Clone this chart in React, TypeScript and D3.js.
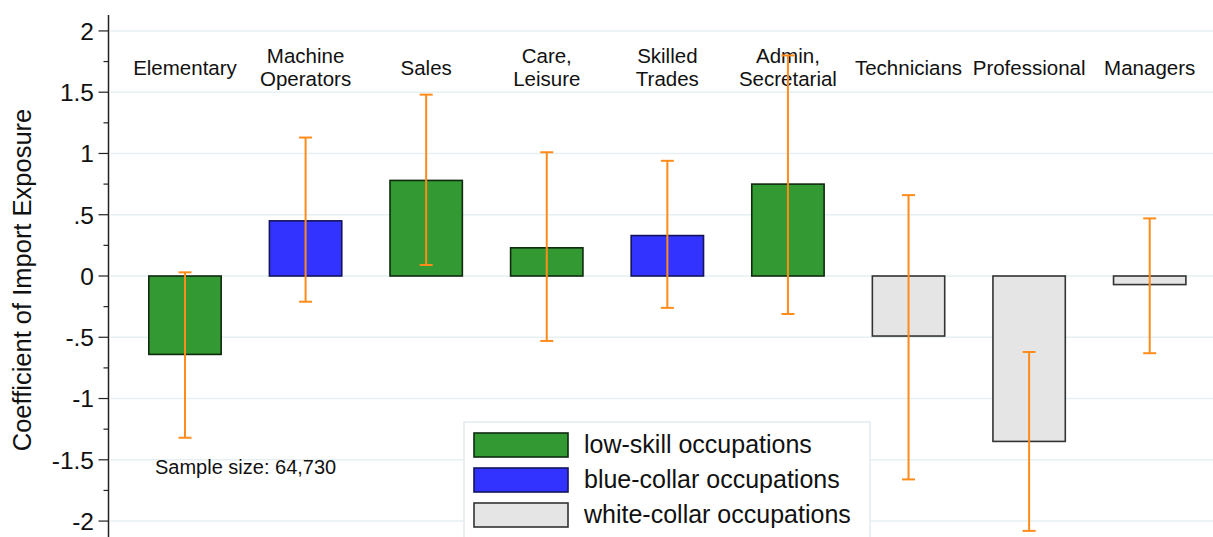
import React, { useEffect, useRef } from "react"
import * as d3 from "d3"

// occupation categories, as shown above the bars
const categories = [
	"Elementary",
	"Machine Operators",
	"Sales",
	"Care, Leisure",
	"Skilled Trades",
	"Admin, Secretarial",
	"Technicians",
	"Professional",
	"Managers",
]
const labelLines = [
	["Elementary"],
	["Machine", "Operators"],
	["Sales"],
	["Care,", "Leisure"],
	["Skilled", "Trades"],
	["Admin,", "Secretarial"],
	["Technicians"],
	["Professional"],
	["Managers"],
]
const groups = ["low", "blue", "low", "low", "blue", "low", "white", "white", "white"]

// coefficient of import exposure and its confidence interval
const coef = [-0.64, 0.45, 0.78, 0.23, 0.33, 0.75, -0.49, -1.35, -0.07]
const ciLow = [-1.32, -0.21, 0.09, -0.53, -0.26, -0.31, -1.66, -2.08, -0.63]
const ciHigh = [0.03, 1.13, 1.48, 1.01, 0.94, 1.8, 0.66, -0.62, 0.47]

const yTicks = [2, 1.5, 1, 0.5, 0, -0.5, -1, -1.5, -2]
const yTickLabels = ["2", "1.5", "1", ".5", "0", "-.5", "-1", "-1.5", "-2"]
const yMinorTicks = [1.75, 1.25, 0.75, 0.25, -0.25, -0.75, -1.25, -1.75]

const legendKeys = ["low", "blue", "white"]
const legendLabels = ["low-skill occupations", "blue-collar occupations", "white-collar occupations"]

const fills: Record<string, string> = { low: "#339933", blue: "#3333ff", white: "#e5e5e5" }
const strokes: Record<string, string> = { low: "#0f2a0f", blue: "#14145a", white: "#333333" }

const width = 1213
const height = 537
const font = "'Liberation Sans', Arial, sans-serif"

const Chart = () => {
	const ref = useRef<SVGSVGElement>(null)

	useEffect(() => {
		document.body.style.margin = "0"
		const axisX = 108.5

		const x = d3
			.scaleBand()
			.domain(categories)
			.range([124.7, 1210])
			.paddingInner(0.4)
			.paddingOuter(0.2)

		const y = d3.scaleLinear().domain([-2.13, 2.13]).range([height, 15])

		const svg = d3.select(ref.current)
		svg.selectAll("*").remove()

		const data = categories.map((c, i) => ({
			cat: c,
			lines: labelLines[i],
			group: groups[i],
			value: coef[i],
			lo: ciLow[i],
			hi: ciHigh[i],
		}))

		// gridlines
		svg
			.append("g")
			.selectAll("line")
			.data(yTicks)
			.join("line")
			.attr("x1", axisX + 2)
			.attr("x2", width)
			.attr("y1", d => y(d))
			.attr("y2", d => y(d))
			.attr("stroke", "#e6eff2")
			.attr("stroke-width", 1.6)

		// y axis
		const axis = svg.append("g")
		axis
			.append("line")
			.attr("x1", axisX)
			.attr("x2", axisX)
			.attr("y1", 15)
			.attr("y2", height)
			.attr("stroke", "#222")
			.attr("stroke-width", 1.5)
		axis
			.selectAll("line.major")
			.data(yTicks)
			.join("line")
			.attr("class", "major")
			.attr("x1", axisX - 10)
			.attr("x2", axisX)
			.attr("y1", d => y(d))
			.attr("y2", d => y(d))
			.attr("stroke", "#222")
			.attr("stroke-width", 1.2)
		axis
			.selectAll("line.minor")
			.data(yMinorTicks)
			.join("line")
			.attr("class", "minor")
			.attr("x1", axisX - 5)
			.attr("x2", axisX)
			.attr("y1", d => y(d))
			.attr("y2", d => y(d))
			.attr("stroke", "#222")
			.attr("stroke-width", 1.2)
		axis
			.selectAll("text")
			.data(yTicks)
			.join("text")
			.attr("x", 94)
			.attr("y", d => y(d))
			.attr("dy", "0.36em")
			.attr("text-anchor", "end")
			.style("font-family", font)
			.style("font-size", "24.5px")
			.style("fill", "#111")
			.text((d, i) => yTickLabels[i])

		svg
			.append("text")
			.attr("transform", `translate(31, 280) rotate(-90)`)
			.attr("text-anchor", "middle")
			.style("font-family", font)
			.style("font-size", "25.5px")
			.style("fill", "#111")
			.text("Coefficient of Import Exposure")

		// bars
		svg
			.append("g")
			.selectAll("rect")
			.data(data)
			.join("rect")
			.attr("x", d => x(d.cat)!)
			.attr("width", x.bandwidth())
			.attr("y", d => y(Math.max(0, d.value)))
			.attr("height", d => Math.abs(y(d.value) - y(0)))
			.attr("fill", d => fills[d.group])
			.attr("stroke", d => strokes[d.group])
			.attr("stroke-width", 1.6)

		// category labels
		const labels = svg
			.append("g")
			.selectAll("text")
			.data(data)
			.join("text")
			.attr("x", d => x(d.cat)! + x.bandwidth() / 2)
			.attr("y", d => (d.lines.length === 1 ? 75 : 63))
			.attr("text-anchor", "middle")
			.style("font-family", font)
			.style("font-size", "20.5px")
			.style("fill", "#111")
		labels
			.selectAll("tspan")
			.data(d => d.lines.map((l, i) => ({ l, i, cx: x(d.cat)! + x.bandwidth() / 2 })))
			.join("tspan")
			.attr("x", d => d.cx)
			.attr("dy", d => (d.i === 0 ? 0 : 23))
			.text(d => d.l)

		// error bars
		const err = svg
			.append("g")
			.attr("stroke", "#ff8c1a")
			.attr("stroke-width", 2)
			.selectAll("g")
			.data(data)
			.join("g")
			.attr("transform", d => `translate(${x(d.cat)! + x.bandwidth() / 2},0)`)
		err
			.append("line")
			.attr("y1", d => y(d.lo))
			.attr("y2", d => y(d.hi))
		err
			.selectAll("line.cap")
			.data(d => [d.lo, d.hi])
			.join("line")
			.attr("class", "cap")
			.attr("x1", -6.5)
			.attr("x2", 6.5)
			.attr("y1", d => y(d))
			.attr("y2", d => y(d))

		// sample size note
		svg
			.append("text")
			.attr("x", 155)
			.attr("y", 474)
			.style("font-family", font)
			.style("font-size", "20px")
			.style("fill", "#111")
			.text("Sample size: 64,730")

		// legend
		const legend = svg.append("g")
		legend
			.append("rect")
			.attr("x", 464)
			.attr("y", 422)
			.attr("width", 406)
			.attr("height", 130)
			.attr("fill", "#fff")
			.attr("stroke", "#e3ecee")
			.attr("stroke-width", 1.5)
		const items = legend
			.selectAll("g")
			.data(legendKeys)
			.join("g")
			.attr("transform", (d, i) => `translate(474, ${433 + i * 35})`)
		items
			.append("rect")
			.attr("width", 94)
			.attr("height", 24)
			.attr("fill", d => fills[d])
			.attr("stroke", d => strokes[d])
			.attr("stroke-width", 1.6)
		items
			.append("text")
			.attr("x", 110)
			.attr("y", 20)
			.style("font-family", font)
			.style("font-size", "25px")
			.style("fill", "#111")
			.text((d, i) => legendLabels[i])
	}, [])

	return <svg ref={ref} width={width} height={height} style={{ display: "block", background: "#fff" }}></svg>
}

export default function App() {
	return <Chart />
}
